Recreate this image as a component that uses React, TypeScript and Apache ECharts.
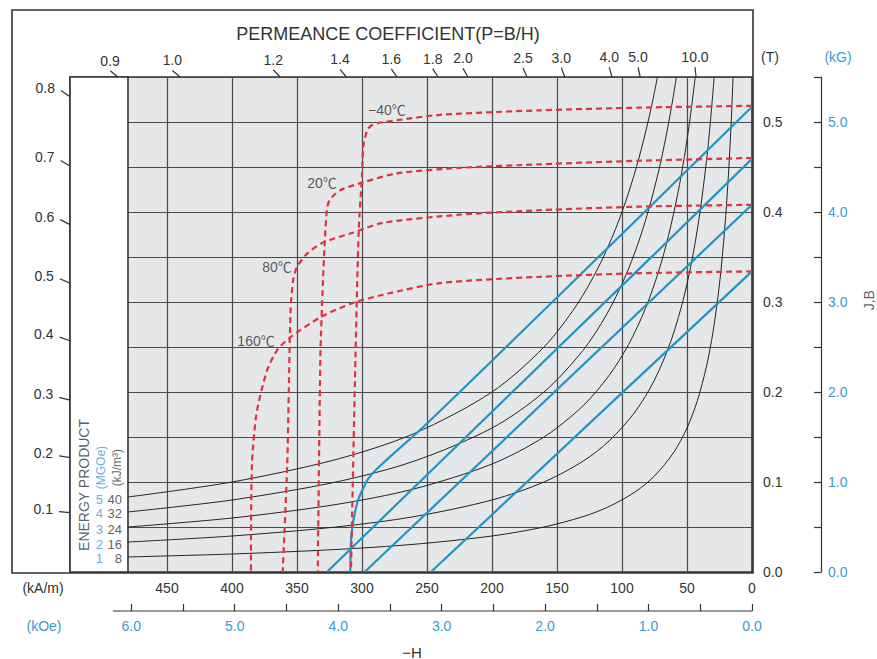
import React, { useEffect, useRef } from 'react';
import * as echarts from 'echarts';

const FONT = "'Liberation Sans', Arial, 'Noto Sans CJK JP', sans-serif";
const TEXT = '#333333';
const BLUE_TEXT = '#3a9ad4';
const BLUE_LINE = '#1f95c8';
const RED = '#e3323f';
const GRID_LINE = '#4a4a4a';
const FRAME = '#333333';

// axis extents (kA/m, T)
const H_MAX = 524.6; // -H at left edge of the axis box
const H_PANEL = 480; // -H at left edge of the grey grid
const B_MAX = 0.55;
const KAM_PER_KOE = 79.5775;

// tick labels
const hLabels = [0, 50, 100, 150, 200, 250, 300, 350, 400, 450];
const kOeTicks = [0, 0.5, 1, 1.5, 2, 2.5, 3, 3.5, 4, 4.5, 5, 5.5, 6];
const kOeLabels = [0, 1, 2, 3, 4, 5, 6];

// permeance coefficient scale (top edge: -H where the P line meets B = 0.55 T)
const topTickLabels = ['0.9', '1.0', '1.2', '1.4', '1.6', '1.8', '2.0', '2.5', '3.0', '4.0', '5.0', '10.0'];
const topTickH = [487.7, 440, 363, 312, 273, 241.5, 218.5, 173, 144, 107.7, 86, 43];
// left edge: B where the P line meets the left side of the box
const leftTickLabels = ['0.8', '0.7', '0.6', '0.5', '0.4', '0.3', '0.2', '0.1'];
const leftTickB = [0.528, 0.451, 0.386, 0.321, 0.257, 0.191, 0.127, 0.066];

// energy product curves (kJ/m3) : [-H kA/m, B T]
const energyKJ = ['8', '16', '24', '32', '40'];
const energyMGOe = ['1', '2', '3', '4', '5'];
const bh8 = [[480, 0.0167], [400, 0.02], [320, 0.025], [260, 0.0308], [200, 0.04], [160, 0.05], [130, 0.0615], [110, 0.0727], [90, 0.0889], [75, 0.1067], [60, 0.1333], [50, 0.16], [42, 0.1905], [35, 0.2286], [30, 0.2667], [25, 0.32], [21, 0.381], [18, 0.4444], [16, 0.5], [14.55, 0.55]];
const bh16 = [[480, 0.0333], [400, 0.04], [320, 0.05], [260, 0.0615], [200, 0.08], [160, 0.1], [130, 0.1231], [110, 0.1455], [90, 0.1778], [75, 0.2133], [62, 0.2581], [52, 0.3077], [45, 0.3556], [40, 0.4], [35, 0.4571], [32, 0.5], [29.1, 0.55]];
const bh24 = [[480, 0.05], [400, 0.06], [320, 0.075], [260, 0.0923], [200, 0.12], [160, 0.15], [130, 0.1846], [110, 0.2182], [95, 0.2526], [82, 0.2927], [72, 0.3333], [64, 0.375], [57, 0.4211], [52, 0.4615], [48, 0.5], [43.64, 0.55]];
const bh32 = [[480, 0.0667], [400, 0.08], [320, 0.1], [260, 0.1231], [200, 0.16], [160, 0.2], [130, 0.2462], [112, 0.2857], [98, 0.3265], [88, 0.3636], [80, 0.4], [72, 0.4444], [66, 0.4848], [61, 0.5246], [58.18, 0.55]];
const bh40 = [[480, 0.0833], [400, 0.1], [320, 0.125], [260, 0.1538], [200, 0.2], [160, 0.25], [135, 0.2963], [118, 0.339], [105, 0.381], [95, 0.4211], [87, 0.4598], [80, 0.5], [76, 0.5263], [72.73, 0.55]];
const energyLabelB = [0.0167, 0.0333, 0.05, 0.0667, 0.0833];

// B curves (blue)
const bM40 = [[0, 0.517], [150, 0.305], [250, 0.165], [286, 0.118], [295, 0.104], [299, 0.093], [303, 0.08], [305, 0.069], [307, 0.054], [308.5, 0.032], [309, 0]];
const b20 = [[0, 0.459], [78, 0.349], [327, 0]];
const b80 = [[0, 0.408], [298, 0]];
const b160 = [[0, 0.334], [100, 0.199], [247, 0]];

// J curves (red dashed)
const jM40 = [[0, 0.518], [86, 0.516], [163, 0.513], [240, 0.508], [273, 0.502], [287, 0.499], [292, 0.497], [296, 0.491], [299, 0.472], [300, 0.44], [302.5, 0.38], [305, 0.24], [308.5, 0]];
const j20 = [[0, 0.46], [86, 0.457], [163, 0.453], [225, 0.449], [273, 0.443], [299, 0.433], [317, 0.424], [325, 0.413], [327, 0.402], [328.5, 0.37], [330, 0.324], [332, 0.239], [334, 0]];
const j80 = [[0, 0.408], [86, 0.406], [163, 0.402], [225, 0.397], [284, 0.388], [307, 0.377], [330, 0.366], [342, 0.354], [350, 0.339], [353, 0.324], [355, 0.288], [357.5, 0.12], [361, 0]];
const j160 = [[0, 0.334], [86, 0.332], [163, 0.328], [240, 0.321], [284, 0.308], [307, 0.299], [332, 0.283], [355, 0.261], [365, 0.247], [373, 0.224], [381, 0.177], [384.6, 0.121], [385.4, 0.01], [385.4, 0]];

const tempLabels = [
  { name: '−40℃', value: [280.8, 0.513] },
  { name: '20℃', value: [330.8, 0.432] },
  { name: '80℃', value: [365.4, 0.339] },
  { name: '160℃', value: [381.5, 0.257] },
];

// rotated titles
const rotatedTitles = [
  { name: 'ENERGY PRODUCT', value: [513.8, 0.0967], color: TEXT, size: 14 },
  { name: '(MGOe)', value: [500.8, 0.116], color: BLUE_TEXT, size: 12 },
  { name: '(kJ/m³)', value: [488.5, 0.116], color: TEXT, size: 12 },
  { name: 'J,B', value: [-90, 0.302], color: TEXT, size: 14 },
];

const font = (size: number) => `${size}px ${FONT}`;

function lineSeries(data: number[][], color: string, width: number, z: number, type: any = 'solid', smooth: any = false) {
  return {
    type: 'line',
    data,
    symbol: 'none',
    silent: true,
    smooth,
    z,
    lineStyle: { color, width, type },
  };
}

function permeanceTicks(data: number[][], labels: string[], side: 'top' | 'left') {
  return {
    type: 'custom',
    coordinateSystem: 'cartesian2d',
    clip: false,
    silent: true,
    z: 6,
    data,
    renderItem: (params: any, api: any) => {
      const end = api.coord([api.value(0), api.value(1)]);
      const o = api.coord([0, 0]);
      let dx = o[0] - end[0];
      let dy = o[1] - end[1];
      const len = Math.hypot(dx, dy);
      dx /= len;
      dy /= len;
      const L = side === 'top' ? 10 : 11;
      const sx = end[0] - dx * L;
      const sy = end[1] - dy * L;
      const text = labels[params.dataIndex];
      const textEl =
        side === 'top'
          ? { type: 'text', x: sx, y: sy - 3, style: { text, fill: TEXT, font: font(14), align: 'center', verticalAlign: 'bottom', textAlign: 'center', textVerticalAlign: 'bottom' } }
          : { type: 'text', x: sx - 6, y: sy - 3, style: { text, fill: TEXT, font: font(14), align: 'right', verticalAlign: 'middle', textAlign: 'right', textVerticalAlign: 'middle' } };
      return {
        type: 'group',
        children: [
          { type: 'line', shape: { x1: sx, y1: sy, x2: end[0], y2: end[1] }, style: { stroke: TEXT, lineWidth: 1.2 } },
          textEl,
        ],
      };
    },
  };
}

function buildOption() {
  const isTenth = (v: number) => Math.abs(v * 10 - Math.round(v * 10)) < 1e-6;
  const isInt = (v: number) => Math.abs(v - Math.round(v)) < 1e-6;
  const energyPts = energyLabelB.map((b, i) => ({ value: [H_PANEL, b], kj: energyKJ[i], mg: energyMGOe[i] }));

  const txt = (text: string, x: number, y: number, size: number, color = TEXT) => ({
    type: 'text',
    x,
    y,
    z: 20,
    silent: true,
    style: { text, fill: color, font: font(size), align: 'center', verticalAlign: 'middle', textAlign: 'center', textVerticalAlign: 'middle' },
  });

  return {
    animation: false,
    backgroundColor: '#ffffff',
    grid: {
      left: 70,
      top: 77,
      width: 682,
      height: 495,
      containLabel: false,
      outerBoundsMode: 'none',
      show: true,
      backgroundColor: '#e6e7e9',
      borderColor: FRAME,
      borderWidth: 1.6,
    },
    xAxis: [
      {
        type: 'value',
        position: 'bottom',
        inverse: true,
        min: 0,
        max: H_MAX,
        interval: 50,
        axisLine: { show: false, onZero: false },
        axisTick: { show: false },
        axisLabel: {
          show: true,
          showMinLabel: true,
          margin: 9,
          color: TEXT,
          fontSize: 14,
          fontFamily: FONT,
          formatter: (v: number) => (hLabels.indexOf(Math.round(v)) >= 0 && Math.abs(v - Math.round(v)) < 1e-6 ? String(Math.round(v)) : ''),
        },
        splitLine: { show: true, lineStyle: { color: GRID_LINE, width: 1.2 } },
      },
      {
        type: 'value',
        position: 'bottom',
        offset: 39,
        inverse: true,
        min: 0,
        max: H_MAX / KAM_PER_KOE,
        interval: 0.5,
        axisLine: { show: true, onZero: false, lineStyle: { color: 'rgba(0,0,0,0)', width: 1 } },
        axisTick: { show: true, inside: true, length: 7, customValues: kOeTicks, lineStyle: { color: TEXT, width: 1.2 } },
        axisLabel: {
          show: true,
          customValues: kOeLabels,
          margin: 8,
          color: BLUE_TEXT,
          fontSize: 14,
          fontFamily: FONT,
          formatter: (v: number) => (isInt(v) && v <= 6 ? v.toFixed(1) : ''),
        },
        splitLine: { show: false },
      },
    ],
    yAxis: [
      {
        type: 'value',
        position: 'right',
        min: 0,
        max: B_MAX,
        interval: 0.05,
        axisLine: { show: false, onZero: false },
        axisTick: { show: false },
        axisLabel: {
          margin: 11,
          color: TEXT,
          fontSize: 14,
          fontFamily: FONT,
          formatter: (v: number) => (isTenth(v) && v < 0.54 ? v.toFixed(1) : ''),
        },
        splitLine: { show: true, lineStyle: { color: GRID_LINE, width: 1.2 } },
      },
      {
        type: 'value',
        position: 'right',
        offset: 69,
        min: 0,
        max: 5.5,
        interval: 0.5,
        axisLine: { show: true, onZero: false, lineStyle: { color: TEXT, width: 1.2 } },
        axisTick: { show: true, inside: true, length: 7, lineStyle: { color: TEXT, width: 1.2 } },
        axisLabel: {
          margin: 7,
          color: BLUE_TEXT,
          fontSize: 14,
          fontFamily: FONT,
          formatter: (v: number) => (isInt(v) ? v.toFixed(1) : ''),
        },
        splitLine: { show: false },
      },
    ],
    series: [
      {
        ...lineSeries(bh8, '#222', 1, 3, 'solid', 0.3),
        markArea: {
          silent: true,
          label: { show: false },
          itemStyle: { color: '#ffffff', borderColor: FRAME, borderWidth: 1.6 },
          data: [[{ xAxis: H_MAX, yAxis: 0 }, { xAxis: H_PANEL, yAxis: B_MAX }]],
        },
      },
      lineSeries(bh16, '#222', 1, 3, 'solid', 0.3),
      lineSeries(bh24, '#222', 1, 3, 'solid', 0.3),
      lineSeries(bh32, '#222', 1, 3, 'solid', 0.3),
      lineSeries(bh40, '#222', 1, 3, 'solid', 0.3),
      lineSeries(bM40, BLUE_LINE, 2.2, 4, 'solid', 0.3),
      lineSeries(b20, BLUE_LINE, 2.2, 4),
      lineSeries(b80, BLUE_LINE, 2.2, 4),
      lineSeries(b160, BLUE_LINE, 2.2, 4),
      lineSeries(jM40, RED, 2.2, 5, [6, 4], 0.25),
      lineSeries(j20, RED, 2.2, 5, [6, 4], 0.25),
      lineSeries(j80, RED, 2.2, 5, [6, 4], 0.25),
      lineSeries(j160, RED, 2.2, 5, [6, 4], 0.25),
      {
        type: 'scatter',
        data: tempLabels,
        symbolSize: 0,
        silent: true,
        z: 7,
        label: { show: true, position: 'inside', formatter: '{b}', color: TEXT, fontSize: 14, fontFamily: FONT },
      },
      {
        type: 'scatter',
        data: energyPts.map((p) => ({ value: p.value, name: p.kj })),
        symbolSize: 0,
        silent: true,
        z: 7,
        label: { show: true, position: 'left', distance: 6, offset: [0, 2], formatter: '{b}', color: TEXT, fontSize: 13, fontFamily: FONT },
      },
      {
        type: 'scatter',
        data: energyPts.map((p) => ({ value: p.value, name: p.mg })),
        symbolSize: 0,
        silent: true,
        z: 7,
        label: { show: true, position: 'left', distance: 25, offset: [0, 2], formatter: '{b}', color: BLUE_TEXT, fontSize: 13, fontFamily: FONT },
      },
      {
        type: 'scatter',
        clip: false,
        data: rotatedTitles.map((p) => ({
          name: p.name,
          value: p.value,
          label: { color: p.color, fontSize: p.size },
        })),
        symbolSize: 0,
        silent: true,
        z: 7,
        label: { show: true, position: 'inside', rotate: 90, formatter: '{b}', fontFamily: FONT },
      },
      permeanceTicks(topTickH.map((h) => [h, B_MAX]), topTickLabels, 'top'),
      permeanceTicks(leftTickB.map((b) => [H_MAX, b]), leftTickLabels, 'left'),
    ],
    graphic: [
      {
        type: 'rect',
        silent: true,
        z: 10,
        shape: { x: 12, y: 10, width: 741, height: 563 },
        style: { fill: 'none', stroke: FRAME, lineWidth: 1.6 },
      },
      {
        type: 'line',
        silent: true,
        shape: { x1: 113, y1: 611, x2: 752, y2: 611 },
        style: { stroke: TEXT, lineWidth: 1.2 },
      },
      txt('PERMEANCE COEFFICIENT(P=B/H)', 388, 34, 18),
      txt('(T)', 770, 57, 14),
      txt('(kG)', 838, 57, 14, BLUE_TEXT),
      txt('(kA/m)', 43, 588, 14),
      txt('(kOe)', 44, 626, 14, BLUE_TEXT),
      txt('−H', 412, 652, 15),
    ],
  };
}

export default function App() {
  const ref = useRef<HTMLDivElement>(null);
  useEffect(() => {
    if (!ref.current) return;
    const chart = echarts.init(ref.current, null, { renderer: 'svg' });
    chart.setOption(buildOption() as any);
    return () => chart.dispose();
  }, []);
  return (
    <div
      ref={ref}
      style={{ position: 'fixed', left: 0, top: 0, width: 877, height: 659, background: '#ffffff' }}
    />
  );
}
